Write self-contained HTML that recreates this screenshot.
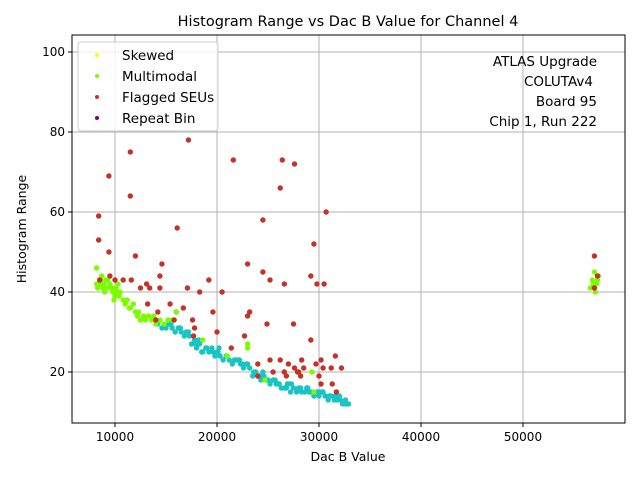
<!DOCTYPE html>
<html><head><meta charset="utf-8"><style>
body{margin:0;background:#fff;font-family:"DejaVu Sans","Liberation Sans",sans-serif}
</style></head><body>
<svg id="chart" width="640" height="480" xmlns="http://www.w3.org/2000/svg" font-family="DejaVu Sans, Liberation Sans, sans-serif">
<rect width="640" height="480" fill="#fff"/>
<text x="348" y="26" text-anchor="middle" font-size="14.5">Histogram Range vs Dac B Value for Channel 4</text>
<g id="grid"></g>
<g id="marks"></g>
<rect x="72" y="35" width="553" height="388" fill="none" stroke="#000" stroke-width="1"/>
<g id="ticks" font-size="12"></g>
<text x="348" y="461" text-anchor="middle" font-size="12.5">Dac B Value</text>
<text transform="translate(26,229) rotate(-90)" text-anchor="middle" font-size="12.5">Histogram Range</text>
<g font-size="13.5" text-anchor="end">
<text x="597" y="66">ATLAS Upgrade</text>
<text x="593" y="86">COLUTAv4</text>
<text x="597" y="106">Board 95</text>
<text x="597" y="126">Chip 1, Run 222</text>
</g>
<g>
<rect x="78" y="42" width="140" height="89" rx="3" fill="#fff" fill-opacity="0.8" stroke="#ccc"/>
<circle cx="97" cy="55" r="2" fill="#ffff00"/><text x="122" y="60" font-size="13.5">Skewed</text>
<circle cx="97" cy="76" r="2" fill="#7cfc00"/><text x="122" y="81" font-size="13.5">Multimodal</text>
<circle cx="97" cy="97" r="2" fill="#dd2a2a"/><text x="122" y="102" font-size="13.5">Flagged SEUs</text>
<circle cx="97" cy="118" r="2" fill="#800080"/><text x="122" y="123" font-size="13.5">Repeat Bin</text>
</g>
</svg>
<script>
const xTicks=[10000,20000,30000,40000,50000];
const yTicks=[20,40,60,80,100];
const cyanX=[14.2,14.6,15.0,15.3,15.6,15.9,16.2,16.5,16.8,17.0,
17.3,17.5,17.8,18.0,18.3,18.6,18.9,19.2,19.5,19.8,
20.0,20.3,20.6,20.9,21.2,21.5,21.8,22.0,22.3,22.6,
22.9,23.2,23.5,23.8,24.0,24.3,24.6,24.9,25.2,25.5,
25.8,26.0,26.3,26.6,26.9,27.2,27.5,27.8,28.0,28.3,
28.6,28.9,29.2,29.5,29.8,30.0,30.3,30.6,30.9,31.2,
31.5,31.8,32.0,32.3,32.6,32.9,15.5,16.4,17.2,18.2,
19.0,20.1,21.0,22.2,23.0,24.2,25.0,26.1,27.0,28.2,
29.0,30.1,31.0,32.1,16.0,19.6,24.5,31.6,20.2,28.8,
23.6,26.8,30.4,32.6,17.9,21.7,25.7,18.5,22.5,27.3];
const cyanY=[32,31,31,32,31,30,31,30,29,30,
29,27,28,26,27,25,26,25,26,24,
25,24,23,24,23,22,23,23,22,21,
22,21,19,20,19,18,19,18,17,18,
17,17,16,16,17,15,16,15,16,15,
15,16,15,14,15,14,15,14,13,14,
13,13,14,12,13,12,32,31,30,28,
26,25,24,23,22,19,18,17,17,16,
15,15,14,13,35,25,20,14,26,16,
20,16,15,12,27,23,18,25,22,17];
const greenX=[8.2,8.3,8.5,8.6,8.8,8.9,9,9.2,9.3,9.5,9.6,9.8,10,10.1,10.2,10.3,10.5,8.7,9.1,9.7,10.4,10.8,11,11.2,11.5,11.8,12,12.2,12.5,12.8,13,13.3,13.6,14,14.4,14.8,15.2,15.6,16,8.2,9.9,11.4,12.3,13.8,18.6,21,23,23,24.7,29.3,29.5,57,56.8,57.2,56.6,57.4,57.1,56.9,57.3,57];
const greenY=[42,41,42,43,41,42,40,41,43,42,41,40,39,41,40,42,40,44,43,41,39,38,37,38,36,37,35,34,33,34,33,34,33,32,33,32,33,33,35,46,38,36,35,34,28,24,27,26,18,20,15,45,43,42,41,44,40,42,43,41];
const redX=[8.4,8.4,9.4,9.4,11.5,11.5,12,17.2,21.6,26.4,27.6,26.2,30.7,24.5,16.1,29.5,14.6,23,24.5,14.4,9.5,8.5,10,10.8,11.6,25.2,19.2,29.2,12.5,13.1,13.4,14.4,17.1,26.6,29.8,30.5,18.3,20.5,13.2,15.4,16.7,14.2,23.2,19.6,23,14,15.8,17.6,27.5,24.9,17.8,17.7,20,22.7,29.2,21.4,24,25.2,26.2,27,28.3,30.2,31.6,27.6,28,28.5,29.7,30.4,31.2,32.2,25.5,26.6,26.8,28.2,24,30,30.2,31.3,31.7,27.9,57,57.3,57];
const redY=[59,53,69,50,75,64,49,78,73,73,72,66,60,58,56,52,47,47,45,44,44,43,43,43,43,43,43,44,41,42,41,41,41,42,42,42,40,40,37,37,36,35,35,35,34,33,33,33,32,32,31,29,30,29,28,26,22,23,23,22,23,23,24,21,20,21,22,21,21,21,20,20,19,19,19,19,17,17,15,20,49,44,41];
const X=v=>13+v*102/10000, Y=v=>452-v*4;
const NS='http://www.w3.org/2000/svg';
const grid=document.getElementById('grid'),ticks=document.getElementById('ticks'),marks=document.getElementById('marks');
function mk(t,a,p){const e=document.createElementNS(NS,t);for(const k in a)e.setAttribute(k,a[k]);p.appendChild(e);return e;}
xTicks.forEach(t=>{const x=X(t);
const g=mk('line',{x1:x,x2:x,y1:35,y2:423,stroke:'#b0b0b0','stroke-width':1},grid);


mk('line',{x1:x,x2:x,y1:423,y2:427,stroke:'#000'},ticks);
const l=mk('text',{x:x,y:441,'text-anchor':'middle'},ticks);l.textContent=t;

});
yTicks.forEach(t=>{const y=Y(t);
const g=mk('line',{x1:72,x2:625,y1:y,y2:y,stroke:'#b0b0b0','stroke-width':1},grid);


mk('line',{x1:68,x2:72,y1:y,y2:y,stroke:'#000'},ticks);
const l=mk('text',{x:65,y:y+4,'text-anchor':'end'},ticks);l.textContent=t;

});
function series(xs,ys,fill,stroke,name){xs.forEach((v,i)=>{
const c=mk('circle',{cx:X(v*1000),cy:Y(ys[i]),r:2.4,fill:fill,stroke:stroke,'stroke-width':0.6},marks);

});}
series(cyanX,cyanY,'#18c4c4','#18c4c4','normal-point');
series(greenX,greenY,'#7cfc00','#7cfc00','multimodal-point');
series(redX,redY,'#d62a2a','#a04020','flagged-seu-point');
</script>
</body></html>
